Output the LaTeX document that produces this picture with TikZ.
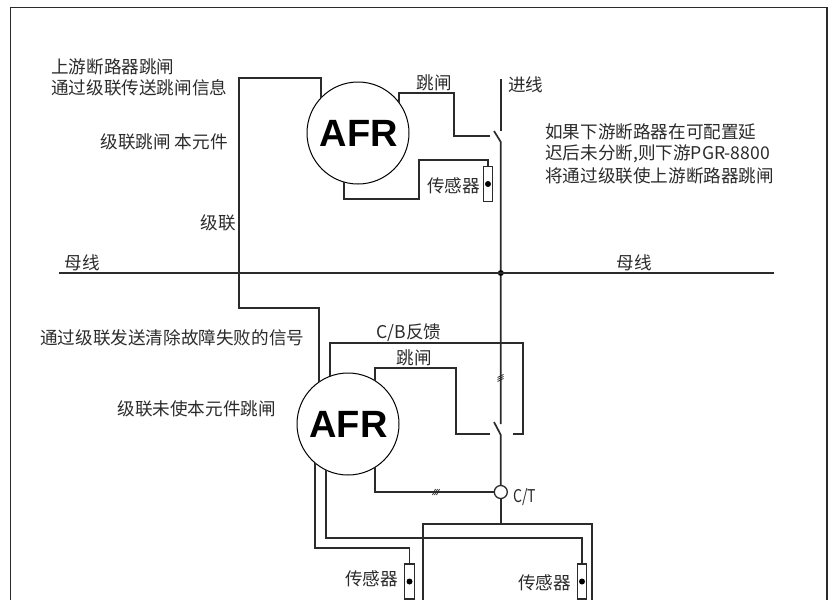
\documentclass[tikz,border=0pt]{standalone}
\usepackage{fontspec}
\setmainfont{Noto Sans CJK SC}
\setsansfont{Liberation Sans}
\definecolor{ink}{HTML}{2B2B2B}
\tikzset{
  wire/.style={draw=ink,line width=1.3pt},
  mainwire/.style={draw=ink,line width=1.7pt},
  txt/.style={inner sep=0pt,text=ink,yshift=-0.8pt,font=\fontsize{17.6}{17.6}\selectfont},
  relay/.style={circle,draw=black,line width=1pt,fill=white,inner sep=0pt,minimum size=102pt,
    font=\fontsize{38}{38}\selectfont\sffamily\bfseries},
  sensorbox/.style={rectangle,draw=ink,line width=1.1pt,inner sep=0pt,minimum width=9.5pt,minimum height=35pt},
  dotmark/.style={circle,fill=black,inner sep=0pt,minimum size=6pt},
}
\begin{document}
\begin{tikzpicture}[x=1pt,y=-1pt]
      \useasboundingbox (0,0) rectangle (832,600);
      \draw[wire,line width=1.1pt] (10.5,600) |- (827,7.5) -- (827,600);
      \draw
        (358,133) node[relay] (afrtop){\raisebox{-0.8pt}{\hspace{1.5pt}AFR}}
        (348,424) node[relay] (afrbot){\raisebox{-0.8pt}{\hspace{1pt}AFR}}
        (488,184) node[sensorbox] (senstop){}
        (488,184) node[dotmark] (senstopdot){}
        (409.5,581.5) node[sensorbox] (sensleft){}
        (409.5,581.5) node[dotmark] (sensleftdot){}
        (582,581.5) node[sensorbox] (sensright){}
        (582,581.5) node[dotmark] (sensrightdot){}
        (500.8,273) node[dotmark] (busdot){}
        (500.8,492) node[circle,draw=ink,line width=1.3pt,inner sep=0pt,minimum size=13pt] (ct){};
      \draw
        (59,273) coordinate (busl)
        (774,273) coordinate (busr)
        (321,98) coordinate (casctop)
        (239,78) coordinate (casccorner)
        (239,308) coordinate (cascmid)
        (319,382) coordinate (cascbot)
        (399,103) coordinate (triptop)
        (454,93) coordinate (triptopa)
        (490,136) coordinate (triptopb)
        (344,182) coordinate (senstopa)
        (419,199) coordinate (senstopb)
        (419,160) coordinate (senstopc)
        (500.8,79) coordinate (feed)
        (500.8,131) coordinate (feedend)
        (494,131) coordinate (bladetopa)
        (500.8,142) coordinate (bladetopb)
        (500.8,424) coordinate (mainend)
        (494,422) coordinate (bladebota)
        (500.8,435) coordinate (bladebotb)
        (330,376) coordinate (cba)
        (523,343) coordinate (cbb)
        (513,434) coordinate (cbc)
        (375,381) coordinate (tripbot)
        (456,368) coordinate (tripbota)
        (490,434) coordinate (tripbotb)
        (375,467) coordinate (ctwire)
        (500.8,524) coordinate (ctend)
        (423,600) coordinate (boxl)
        (592,600) coordinate (boxr)
        (315,463) coordinate (sensa)
        (326,470) coordinate (sensb)
        (409.5,548) coordinate (sensacorner)
        (582,538) coordinate (sensbcorner);
      \begin{scope}[wire]
        \draw (busl) -- (busr);
        \draw (casctop) |- (casccorner) -- (cascmid) -| (cascbot);
        \draw (triptop) |- (triptopa) |- (triptopb);
        \draw (senstopa) |- (senstopb) -- (senstopc) -| (senstop.north);
        \draw[mainwire] (feed) -- (feedend);
        \draw[mainwire] (bladetopa) -- (bladetopb) -- (busdot) -- (mainend);
        \draw[mainwire] (bladebota) -- (bladebotb) -- (ct.north);
        \draw[mainwire] (ct.south) -- (ctend);
        \draw (cba) |- (cbb) |- (cbc);
        \draw (tripbot) |- (tripbota) |- (tripbotb);
        \draw (ctwire) |- (ct.west);
        \draw (boxl) |- (ctend -| boxr) -- (boxr);
        \draw (sensa) |- (sensacorner) -- (sensleft.north);
        \draw (sensb) |- (sensbcorner) -- (sensright.north);
      \end{scope}
      \foreach \d in {-2,0,2}
        \draw[ink,line width=0.8pt] (497.5,379.5+\d) -- (503.5,376.5+\d);
      \foreach \d in {-2,0,2}
        \draw[ink,line width=0.8pt] (434.5+\d,495) -- (437.5+\d,489);
      \draw
        (51,66) node[txt,anchor=west] (uptrip){上游断路器跳闸}
        (51,87) node[txt,anchor=west] (upinfo){通过级联传送跳闸信息}
        (228,141) node[txt,anchor=east] (casclocal){级联跳闸 本元件}
        (434,82) node[txt] (triptoplabel){跳闸}
        (508,84) node[txt,anchor=west] (incoming){进线}
        (480,185) node[txt,anchor=east] (senstoplabel){传感器}
        (545,131) node[txt,anchor=west] (notea){如果下游断路器在可配置延}
        (545,153) node[txt,anchor=west] (noteb){迟后未分断,则下游PGR-8800}
        (545,175) node[txt,anchor=west] (notec){将通过级联使上游断路器跳闸}
        (82,262) node[txt] (busleft){母线}
        (634,262) node[txt] (busright){母线}
        (236,222) node[txt,anchor=east] (casclabel){级联}
        (40,337) node[txt,anchor=west] (failsignal){通过级联发送清除故障失败的信号}
        (276,408) node[txt,anchor=east] (casclocalno){级联未使本元件跳闸}
        (409,332) node[txt] (cblabel){C/B反馈}
        (414,357) node[txt] (tripbotlabel){跳闸}
        (513,496) node[txt,anchor=west,xscale=0.8] (ctlabel){C/T}
        (398,578) node[txt,anchor=east] (sensleftlabel){传感器}
        (571,582) node[txt,anchor=east] (sensrightlabel){传感器};
    \end{tikzpicture}
\end{document}
